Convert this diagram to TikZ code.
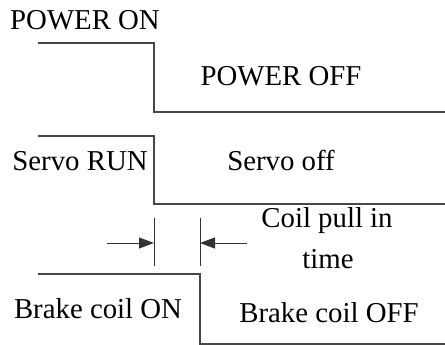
\documentclass[tikz,border=0pt]{standalone}
\usepackage{fontspec}
\setmainfont{Liberation Serif}
\usetikzlibrary{arrows.meta}
\begin{document}
\begin{tikzpicture}[x=1pt,y=-1pt,
  sig/.style={draw=black!72, line width=2.2pt},
  tick/.style={draw=black!80, line width=1pt},
  dim/.style={draw=black!80, line width=1pt, -{Triangle[length=15pt,width=11pt]}},
  lbl/.style={font=\fontsize{28.8}{32}\selectfont, inner sep=0pt, anchor=base}]
\useasboundingbox (0,0) rectangle (445,345);
% coordinates
\coordinate (p0) at (38,43); \coordinate (p1) at (154,43);
\coordinate (p2) at (154,112); \coordinate (p3) at (445,112);
\coordinate (s0) at (38,136); \coordinate (s1) at (154,136);
\coordinate (s2) at (154,204); \coordinate (s3) at (445,204);
\coordinate (b0) at (38,274); \coordinate (b1) at (200,274);
\coordinate (b2) at (200,344); \coordinate (b3) at (445,344);
\coordinate (t1a) at (154,218); \coordinate (t1b) at (154,266);
\coordinate (t2a) at (200,218); \coordinate (t2b) at (200,266);
\coordinate (a1s) at (107,243); \coordinate (a1e) at (154,243);
\coordinate (a2s) at (247,243); \coordinate (a2e) at (200,243);
% signals
\draw[sig] (p0) -- (p1) -- (p2) -- (p3);
\draw[sig] (s0) -- (s1) -- (s2) -- (s3);
\draw[sig] (b0) -- (b1) -- (b2) -- (b3);
% ticks and arrows
\draw[tick] (t1a) -- (t1b);
\draw[tick] (t2a) -- (t2b);
\draw[dim] (a1s) -- (a1e);
\draw[dim] (a2s) -- (a2e);
% labels
\node[lbl] (pon) at (85,30) {POWER ON};
\node[lbl] (poff) at (281,85) {POWER OFF};
\node[lbl] (srun) at (80,170) {Servo RUN};
\node[lbl] (soff) at (281,170) {Servo off};
\node[lbl] (coil1) at (327,227) {Coil pull in};
\node[lbl] (coil2) at (328,268) {time};
\node[lbl] (bon) at (98,318) {Brake coil ON};
\node[lbl] (boff) at (329,322) {Brake coil OFF};
\end{tikzpicture}
\end{document}
